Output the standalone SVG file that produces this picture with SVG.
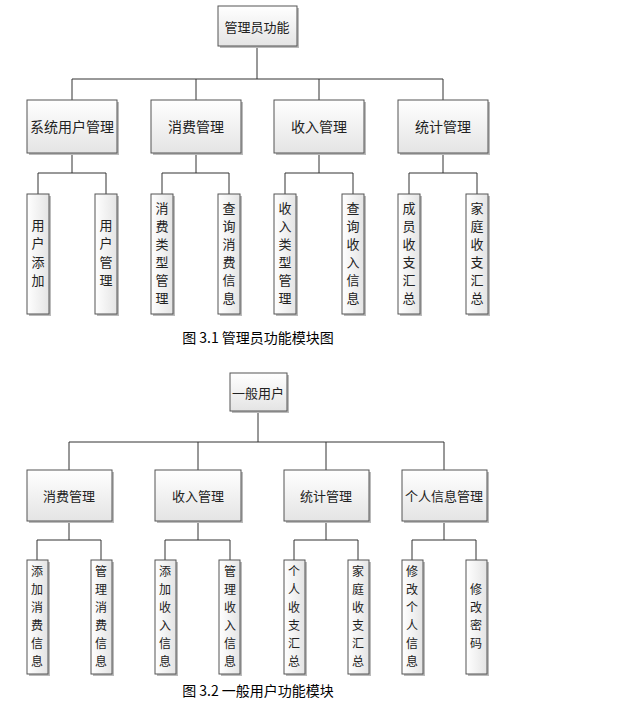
<svg xmlns="http://www.w3.org/2000/svg" width="622" height="709" viewBox="0 0 622 709">
<defs>
<linearGradient id="g" x1="0" y1="0" x2="0" y2="1"><stop offset="0" stop-color="#ffffff"/><stop offset="1" stop-color="#e4e4e4"/></linearGradient>
<linearGradient id="gv" x1="0" y1="0" x2="1" y2="0"><stop offset="0" stop-color="#ffffff"/><stop offset="1" stop-color="#e4e4e4"/></linearGradient>
<style>
.b{fill:url(#g);stroke:#555;stroke-width:1}
.v{fill:url(#gv);stroke:#555;stroke-width:1}
.s{fill:#bbb}
text{font-family:"Noto Sans CJK SC","Liberation Sans",sans-serif;fill:#222;text-anchor:middle;dominant-baseline:central}
.t{font-size:13px}
.l{font-size:14px}
.k{font-size:13px}
.j{font-size:12px}
.c{font-size:14px;fill:#000}
#conn path{fill:none;stroke:#333;stroke-width:1}
</style>
</defs>
<rect width="622" height="709" fill="#fff"/>
<g id="conn">
<path d="M257 46V79M72 79H443M72 79V100M196 79V100M319 79V100M443 79V100"/>
<path d="M72 153V173M38 173H106M38 173V194M106 173V194"/>
<path d="M196 153V173M162 173H229M162 173V194M229 173V194"/>
<path d="M319 153V173M285 173H353M285 173V194M353 173V194"/>
<path d="M443 153V173M409 173H477M409 173V194M477 173V194"/>
<path d="M258 411V442M69 442H444M69 442V470M198 442V470M326 442V470M444 442V470"/>
<path d="M69 521V540M37 540H101M37 540V560M101 540V560"/>
<path d="M198 521V540M165 540H230M165 540V560M230 540V560"/>
<path d="M326 521V540M294 540H358M294 540V560M358 540V560"/>
<path d="M444 521V540M412 540H476M412 540V560M476 540V560"/>
</g>
<g id="n0"><rect class="s" x="220" y="8" width="79" height="40"/><rect class="b" x="218" y="6" width="79" height="40"/><text class="t" x="257" y="26">管理员功能</text></g>
<g id="n1"><rect class="s" x="29" y="102" width="90" height="53"/><rect class="b" x="27" y="100" width="90" height="53"/><text class="l" x="72" y="126">系统用户管理</text></g>
<g id="n2"><rect class="s" x="153" y="102" width="90" height="53"/><rect class="b" x="151" y="100" width="90" height="53"/><text class="l" x="196" y="126">消费管理</text></g>
<g id="n3"><rect class="s" x="276" y="102" width="90" height="53"/><rect class="b" x="274" y="100" width="90" height="53"/><text class="l" x="319" y="126">收入管理</text></g>
<g id="n4"><rect class="s" x="400" y="102" width="90" height="53"/><rect class="b" x="398" y="100" width="90" height="53"/><text class="l" x="443" y="126">统计管理</text></g>
<g id="n5"><rect class="s" x="29" y="196" width="22" height="120"/><rect class="v" x="27" y="194" width="22" height="120"/><text class="k"><tspan x="38" y="224">用</tspan><tspan x="38" y="242">户</tspan><tspan x="38" y="261">添</tspan><tspan x="38" y="279">加</tspan></text></g>
<g id="n6"><rect class="s" x="97" y="196" width="22" height="120"/><rect class="v" x="95" y="194" width="22" height="120"/><text class="k"><tspan x="106" y="224">用</tspan><tspan x="106" y="242">户</tspan><tspan x="106" y="261">管</tspan><tspan x="106" y="279">理</tspan></text></g>
<g id="n7"><rect class="s" x="153" y="196" width="22" height="120"/><rect class="v" x="151" y="194" width="22" height="120"/><text class="k"><tspan x="162" y="207">消</tspan><tspan x="162" y="225">费</tspan><tspan x="162" y="243">类</tspan><tspan x="162" y="261">型</tspan><tspan x="162" y="279">管</tspan><tspan x="162" y="297">理</tspan></text></g>
<g id="n8"><rect class="s" x="220" y="196" width="22" height="120"/><rect class="v" x="218" y="194" width="22" height="120"/><text class="k"><tspan x="229" y="207">查</tspan><tspan x="229" y="225">询</tspan><tspan x="229" y="243">消</tspan><tspan x="229" y="261">费</tspan><tspan x="229" y="279">信</tspan><tspan x="229" y="297">息</tspan></text></g>
<g id="n9"><rect class="s" x="276" y="196" width="22" height="120"/><rect class="v" x="274" y="194" width="22" height="120"/><text class="k"><tspan x="285" y="207">收</tspan><tspan x="285" y="225">入</tspan><tspan x="285" y="243">类</tspan><tspan x="285" y="261">型</tspan><tspan x="285" y="279">管</tspan><tspan x="285" y="297">理</tspan></text></g>
<g id="n10"><rect class="s" x="344" y="196" width="22" height="120"/><rect class="v" x="342" y="194" width="22" height="120"/><text class="k"><tspan x="353" y="207">查</tspan><tspan x="353" y="225">询</tspan><tspan x="353" y="243">收</tspan><tspan x="353" y="261">入</tspan><tspan x="353" y="279">信</tspan><tspan x="353" y="297">息</tspan></text></g>
<g id="n11"><rect class="s" x="400" y="196" width="22" height="120"/><rect class="v" x="398" y="194" width="22" height="120"/><text class="k"><tspan x="409" y="207">成</tspan><tspan x="409" y="225">员</tspan><tspan x="409" y="243">收</tspan><tspan x="409" y="261">支</tspan><tspan x="409" y="279">汇</tspan><tspan x="409" y="297">总</tspan></text></g>
<g id="n12"><rect class="s" x="468" y="196" width="22" height="120"/><rect class="v" x="466" y="194" width="22" height="120"/><text class="k"><tspan x="477" y="207">家</tspan><tspan x="477" y="225">庭</tspan><tspan x="477" y="243">收</tspan><tspan x="477" y="261">支</tspan><tspan x="477" y="279">汇</tspan><tspan x="477" y="297">总</tspan></text></g>
<text class="c" x="258" y="337">图 3.1 管理员功能模块图</text>

<g id="m0"><rect class="s" x="232" y="375" width="57" height="38"/><rect class="b" x="230" y="373" width="57" height="38"/><text class="t" x="258" y="392">一般用户</text></g>
<g id="m1"><rect class="s" x="29" y="472" width="85" height="51"/><rect class="b" x="27" y="470" width="85" height="51"/><text class="t" x="69" y="495">消费管理</text></g>
<g id="m2"><rect class="s" x="157" y="472" width="86" height="51"/><rect class="b" x="155" y="470" width="86" height="51"/><text class="t" x="198" y="495">收入管理</text></g>
<g id="m3"><rect class="s" x="286" y="472" width="85" height="51"/><rect class="b" x="284" y="470" width="85" height="51"/><text class="t" x="326" y="495">统计管理</text></g>
<g id="m4"><rect class="s" x="404" y="472" width="85" height="51"/><rect class="b" x="402" y="470" width="85" height="51"/><text class="t" x="444" y="495">个人信息管理</text></g>
<g id="m5"><rect class="s" x="29" y="562" width="21" height="114"/><rect class="v" x="27" y="560" width="21" height="114"/><text class="j"><tspan x="37" y="570">添</tspan><tspan x="37" y="588">加</tspan><tspan x="37" y="606">消</tspan><tspan x="37" y="624">费</tspan><tspan x="37" y="642">信</tspan><tspan x="37" y="660">息</tspan></text></g>
<g id="m6"><rect class="s" x="93" y="562" width="21" height="114"/><rect class="v" x="91" y="560" width="21" height="114"/><text class="j"><tspan x="101" y="570">管</tspan><tspan x="101" y="588">理</tspan><tspan x="101" y="606">消</tspan><tspan x="101" y="624">费</tspan><tspan x="101" y="642">信</tspan><tspan x="101" y="660">息</tspan></text></g>
<g id="m7"><rect class="s" x="157" y="562" width="21" height="114"/><rect class="v" x="155" y="560" width="21" height="114"/><text class="j"><tspan x="165" y="570">添</tspan><tspan x="165" y="588">加</tspan><tspan x="165" y="606">收</tspan><tspan x="165" y="624">入</tspan><tspan x="165" y="642">信</tspan><tspan x="165" y="660">息</tspan></text></g>
<g id="m8"><rect class="s" x="221" y="562" width="21" height="114"/><rect class="v" x="219" y="560" width="21" height="114"/><text class="j"><tspan x="230" y="570">管</tspan><tspan x="230" y="588">理</tspan><tspan x="230" y="606">收</tspan><tspan x="230" y="624">入</tspan><tspan x="230" y="642">信</tspan><tspan x="230" y="660">息</tspan></text></g>
<g id="m9"><rect class="s" x="286" y="562" width="21" height="114"/><rect class="v" x="284" y="560" width="21" height="114"/><text class="j"><tspan x="294" y="570">个</tspan><tspan x="294" y="588">人</tspan><tspan x="294" y="606">收</tspan><tspan x="294" y="624">支</tspan><tspan x="294" y="642">汇</tspan><tspan x="294" y="660">总</tspan></text></g>
<g id="m10"><rect class="s" x="350" y="562" width="21" height="114"/><rect class="v" x="348" y="560" width="21" height="114"/><text class="j"><tspan x="358" y="570">家</tspan><tspan x="358" y="588">庭</tspan><tspan x="358" y="606">收</tspan><tspan x="358" y="624">支</tspan><tspan x="358" y="642">汇</tspan><tspan x="358" y="660">总</tspan></text></g>
<g id="m11"><rect class="s" x="404" y="562" width="21" height="114"/><rect class="v" x="402" y="560" width="21" height="114"/><text class="j"><tspan x="412" y="570">修</tspan><tspan x="412" y="588">改</tspan><tspan x="412" y="606">个</tspan><tspan x="412" y="624">人</tspan><tspan x="412" y="642">信</tspan><tspan x="412" y="660">息</tspan></text></g>
<g id="m12"><rect class="s" x="468" y="562" width="21" height="114"/><rect class="v" x="466" y="560" width="21" height="114"/><text class="j"><tspan x="476" y="588">修</tspan><tspan x="476" y="606">改</tspan><tspan x="476" y="624">密</tspan><tspan x="476" y="642">码</tspan></text></g>
<text class="c" x="258" y="690">图 3.2 一般用户功能模块</text>
</svg>
